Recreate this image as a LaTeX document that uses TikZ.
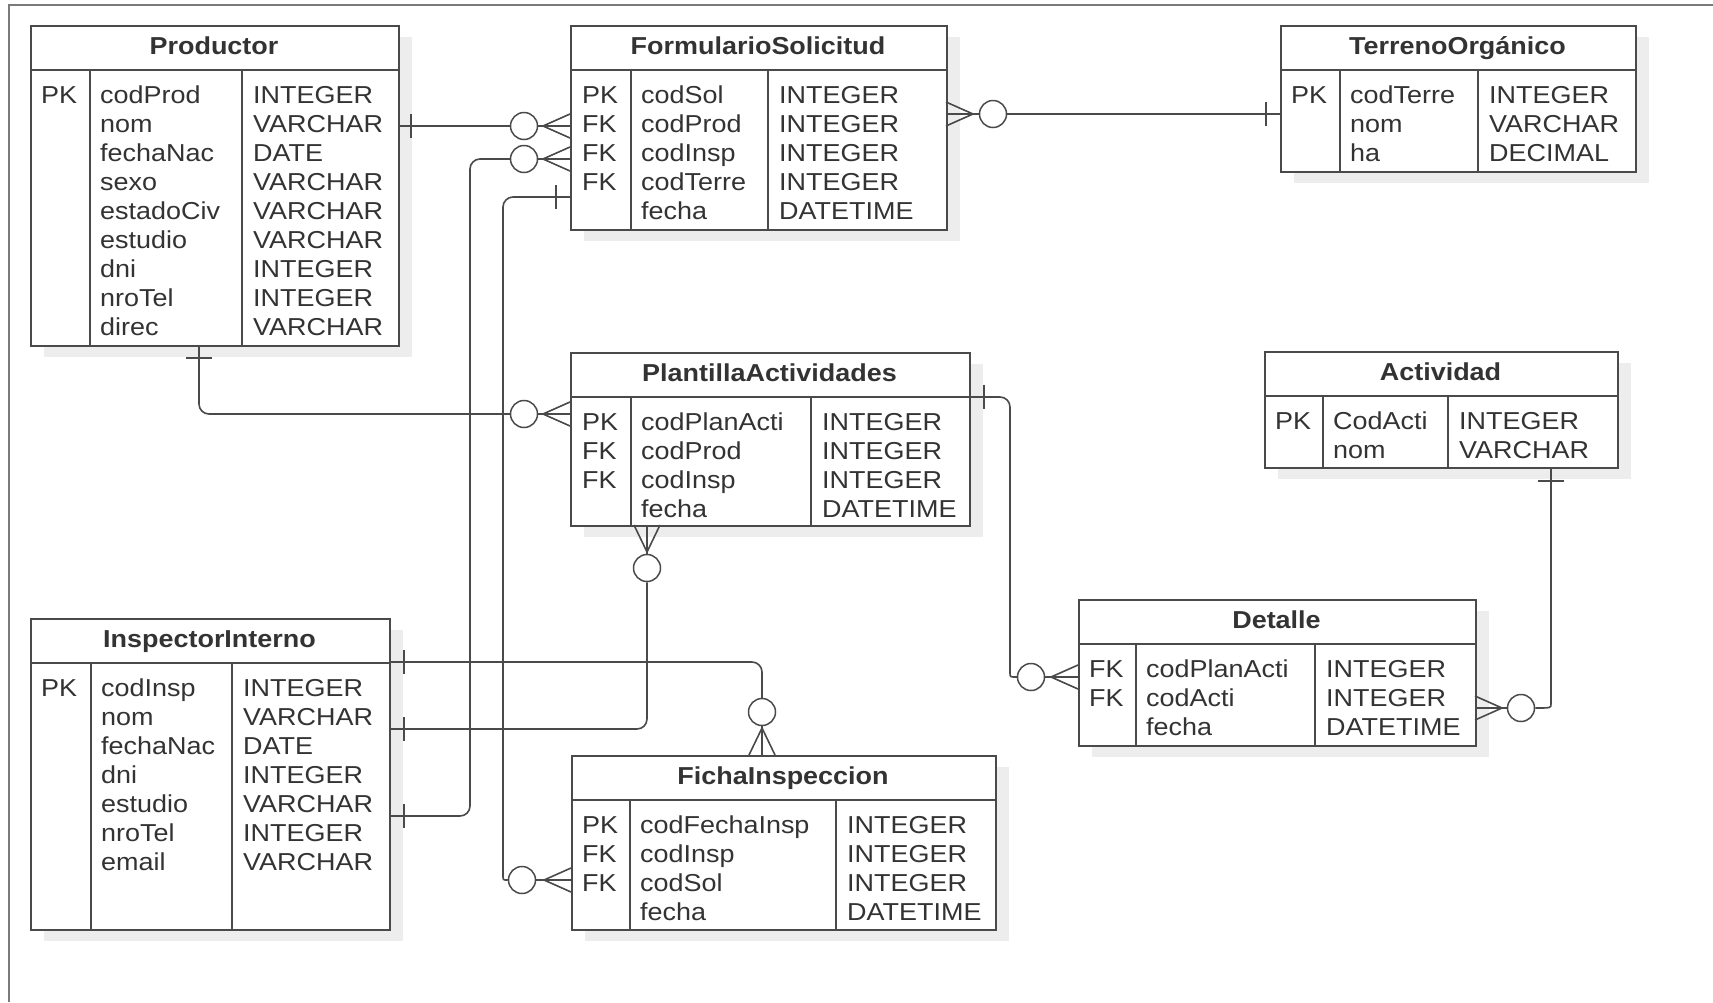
\documentclass[tikz,border=0pt]{standalone}
\usepackage{fontspec}
\setmainfont{Liberation Sans}[FakeStretch=1.1]
\usetikzlibrary{calc}
\definecolor{linec}{HTML}{4A4A4A}
\definecolor{txtc}{HTML}{333333}
\definecolor{shadc}{HTML}{EDEDED}
\definecolor{framec}{HTML}{7A7A7A}
\tikzset{
 tbl/.style={draw=linec, line width=1.8pt, fill=white, inner sep=0pt, rectangle},
 tblline/.style={draw=linec, line width=1.8pt},
 fld/.style={inner sep=0pt, text=txtc, font=\fontsize{24.5}{29}\selectfont},
 ttl/.style={inner sep=0pt, text=txtc, font=\fontsize{24.5}{29}\selectfont\bfseries},
 conn/.style={draw=linec, line width=1.6pt},
 circ/.style={circle, draw=linec, line width=1.5pt, fill=white, minimum size=27pt, inner sep=0pt},
}
% name, left, top, div1, div2, right, bottom, title
\newcommand{\ertbl}[8]{%
  \fill[shadc] ({#2+14},{#3+12}) rectangle ({#6+14},{#7+12});
  \node[tbl, minimum width={(#6-#2)*1pt}, minimum height={(#7-#3)*1pt}, anchor=north west] (#1) at (#2,#3) {};
  \draw[tblline] (#2,{#3+45}) -- (#6,{#3+45});
  \draw[tblline] (#4,{#3+45}) -- (#4,#7);
  \draw[tblline] (#5,{#3+45}) -- (#5,#7);
  \node[ttl, anchor=base] (#1-title) at ({(#2+#6)/2},{#3+29}) {#8};
}
% name, tag, x, first baseline, list
\newcommand{\ercol}[5]{%
  \foreach \t [count=\i] in {#5} {\node[fld, anchor=base west] (#1-#2\i) at (#3,{#4+29*(\i-1)}) {\t};}
}
\newcommand{\crowH}[3]{\draw[conn] ({#1+#3},#2) -- (#1,{#2-12}); \draw[conn] ({#1+#3},#2) -- (#1,{#2+12});}
\newcommand{\crowV}[3]{\draw[conn] (#1,{#2+#3}) -- ({#1-13},#2); \draw[conn] (#1,{#2+#3}) -- ({#1+13},#2);}
\newcommand{\tickV}[2]{\draw[conn] (#1,{#2-12}) -- (#1,{#2+12});}
\newcommand{\tickH}[2]{\draw[conn] ({#1-13},#2) -- ({#1+13},#2);}
\begin{document}
\begin{tikzpicture}[x=1pt,y=-1pt]
\useasboundingbox (0,0) rectangle (1713,1002);
\draw[framec, line width=1.4pt] (9,1002) -- (9,5) -- (1713,5);

% Productor
\ertbl{prod}{30}{25}{90}{242}{398}{345}{Productor}
\ercol{prod}{k}{41}{103}{PK}
\ercol{prod}{n}{100}{103}{codProd,nom,fechaNac,sexo,estadoCiv,estudio,dni,nroTel,direc}
\ercol{prod}{t}{253}{103}{INTEGER,VARCHAR,DATE,VARCHAR,VARCHAR,VARCHAR,INTEGER,INTEGER,VARCHAR}

% FormularioSolicitud
\ertbl{form}{570}{25}{631}{768}{946}{229}{FormularioSolicitud}
\ercol{form}{k}{582}{103}{PK,FK,FK,FK}
\ercol{form}{n}{641}{103}{codSol,codProd,codInsp,codTerre,fecha}
\ercol{form}{t}{779}{103}{INTEGER,INTEGER,INTEGER,INTEGER,DATETIME}

% TerrenoOrganico
\ertbl{terr}{1280}{25}{1340}{1478}{1635}{171}{TerrenoOrgánico}
\ercol{terr}{k}{1291}{103}{PK}
\ercol{terr}{n}{1350}{103}{codTerre,nom,ha}
\ercol{terr}{t}{1489}{103}{INTEGER,VARCHAR,DECIMAL}

% PlantillaActividades
\ertbl{plan}{570}{352}{631}{811}{969}{525}{PlantillaActividades}
\ercol{plan}{k}{582}{430}{PK,FK,FK}
\ercol{plan}{n}{641}{430}{codPlanActi,codProd,codInsp,fecha}
\ercol{plan}{t}{822}{430}{INTEGER,INTEGER,INTEGER,DATETIME}

% Actividad
\ertbl{acti}{1264}{351}{1323}{1448}{1617}{467}{Actividad}
\ercol{acti}{k}{1275}{429}{PK}
\ercol{acti}{n}{1333}{429}{CodActi,nom}
\ercol{acti}{t}{1459}{429}{INTEGER,VARCHAR}

% Detalle
\ertbl{deta}{1078}{599}{1136}{1315}{1475}{745}{Detalle}
\ercol{deta}{k}{1089}{677}{FK,FK}
\ercol{deta}{n}{1146}{677}{codPlanActi,codActi,fecha}
\ercol{deta}{t}{1326}{677}{INTEGER,INTEGER,DATETIME}

% InspectorInterno
\ertbl{insp}{30}{618}{91}{232}{389}{929}{InspectorInterno}
\ercol{insp}{k}{41}{696}{PK}
\ercol{insp}{n}{101}{696}{codInsp,nom,fechaNac,dni,estudio,nroTel,email}
\ercol{insp}{t}{243}{696}{INTEGER,VARCHAR,DATE,INTEGER,VARCHAR,INTEGER,VARCHAR}

% FichaInspeccion
\ertbl{fich}{571}{755}{630}{836}{995}{929}{FichaInspeccion}
\ercol{fich}{k}{582}{833}{PK,FK,FK}
\ercol{fich}{n}{640}{833}{codFechaInsp,codInsp,codSol,fecha}
\ercol{fich}{t}{847}{833}{INTEGER,INTEGER,INTEGER,DATETIME}

% circles
\node[circ] (c1) at (524,126) {};
\node[circ] (c2) at (524,159) {};
\node[circ] (c3) at (522,880) {};
\node[circ] (c4) at (524,414) {};
\node[circ] (c5) at (647,568) {};
\node[circ] (c6) at (762,712) {};
\node[circ] (c7) at (1031,677) {};
\node[circ] (c8) at (1521,708) {};
\node[circ] (c9) at (993,114) {};

% C1 Productor -> Formulario
\draw[conn] (prod.east |- c1) -- (c1);
\draw[conn] (c1) -- (form.west |- c1);
\tickV{411}{126}
\crowH{570}{126}{-27}

% C2 Inspector -> Formulario
\draw[conn, rounded corners=10pt] (c2) -- (470,159) -- (470,816) -- (insp.east |- 0,816);
\draw[conn] (c2) -- (form.west |- c2);
\tickV{404}{816}
\crowH{570}{159}{-27}

% C3 Formulario -> Ficha
\draw[conn, rounded corners=10pt] (form.west |- 0,197) -- (503,197) -- (503,866) .. controls (503,880) .. (c3.west);
\draw[conn] (c3) -- (fich.west |- c3);
\tickV{556}{197}
\crowH{571}{880}{-27}

% C4 Productor -> Plantilla
\draw[conn, rounded corners=10pt] (199,0 |- prod.south) -- (199,414) -- (c4);
\draw[conn] (c4) -- (plan.west |- c4);
\tickH{199}{358}
\crowH{570}{414}{-27}

% C5 Inspector -> Plantilla
\draw[conn] (647,0 |- plan.south) -- (c5);
\draw[conn, rounded corners=10pt] (c5) -- (647,729) -- (insp.east |- 0,729);
\tickV{404}{729}
\crowV{647}{525}{27}

% C6 Inspector -> Ficha
\draw[conn, rounded corners=10pt] (insp.east |- 0,662) -- (762,662) -- (c6);
\draw[conn] (c6) -- (762,0 |- fich.north);
\tickV{404}{662}
\crowV{762}{755}{-27}

% C7 Plantilla -> Detalle
\draw[conn, rounded corners=10pt] (plan.east |- 0,397) -- (1010,397) -- (1010,663) .. controls (1010,677) .. (c7.west);
\draw[conn] (c7) -- (deta.west |- c7);
\tickV{984}{397}
\crowH{1078}{677}{-27}

% C8 Actividad -> Detalle
\draw[conn, rounded corners=10pt] (1551,0 |- acti.south) -- (1551,694) .. controls (1551,708) .. (c8.east);
\draw[conn] (c8) -- (deta.east |- c8);
\tickH{1551}{481}
\crowH{1475}{708}{27}

% C9 Formulario -> Terreno
\draw[conn] (form.east |- c9) -- (c9);
\draw[conn] (c9) -- (terr.west |- c9);
\tickV{1266}{114}
\crowH{946}{114}{27}
\end{tikzpicture}
\end{document}
